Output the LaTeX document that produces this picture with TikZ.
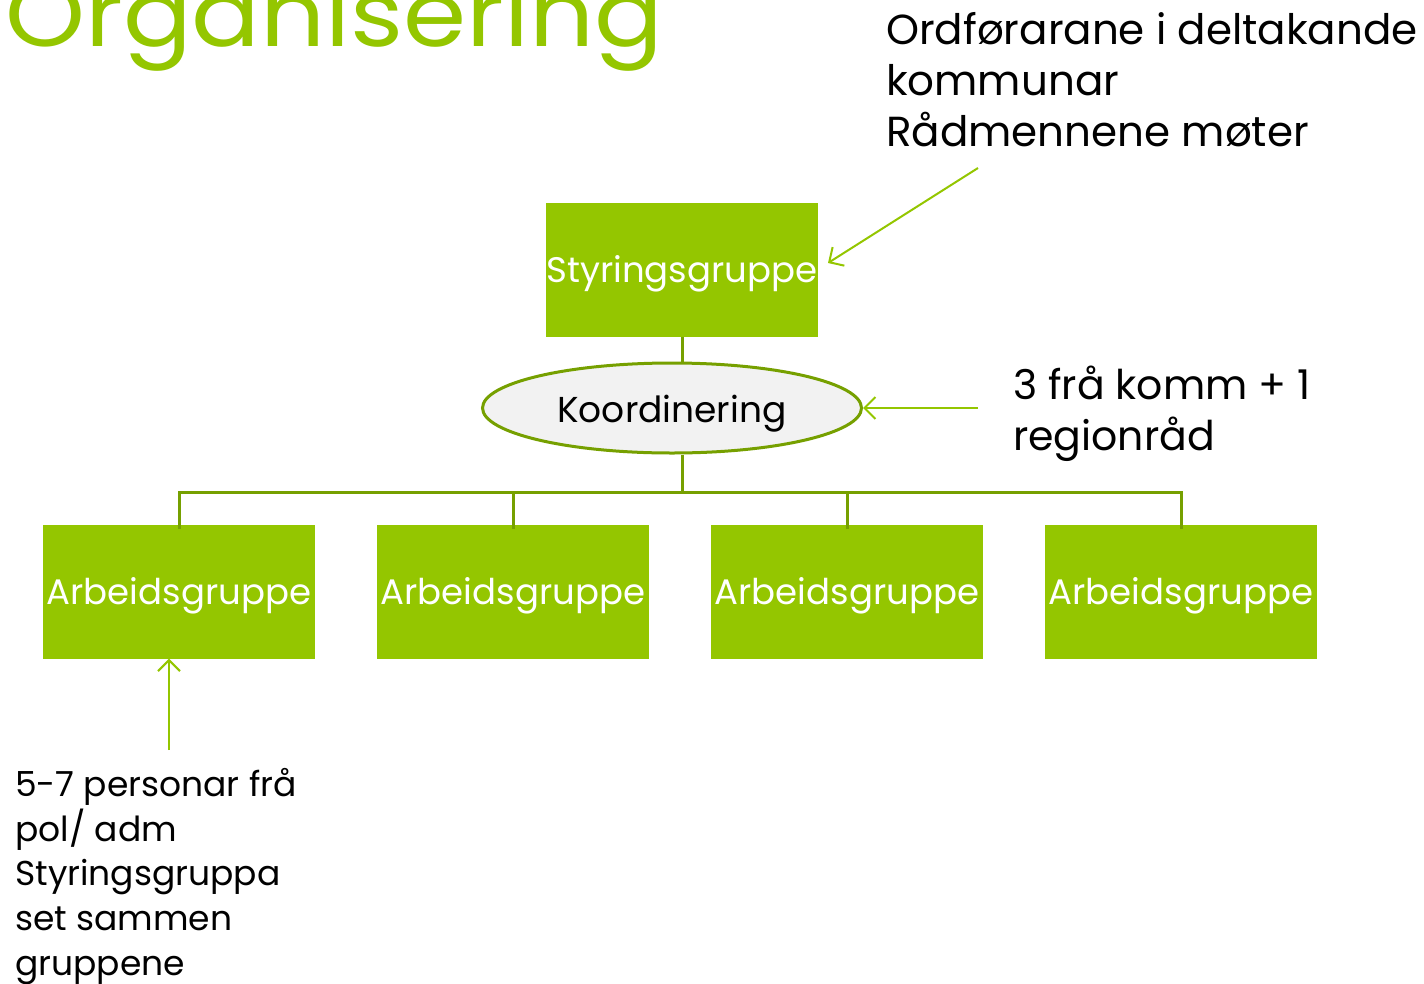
\documentclass[tikz,border=0pt]{standalone}
\usepackage{fontspec}
\setmainfont{Poppins}
\usetikzlibrary{arrows.meta,shapes.geometric}
\definecolor{lgreen}{HTML}{94C600}
\definecolor{dgreen}{HTML}{76A000}
\definecolor{egray}{HTML}{F2F2F2}
\tikzset{
  gbox/.style={fill=lgreen, draw=none, minimum width=272pt, minimum height=134pt, inner sep=0pt, text=white, text height=29pt, text depth=4pt, font=\fontsize{35.5}{40}\selectfont},
  conn/.style={draw=dgreen, line width=3pt},
  note/.style={lgreen, line width=2pt, -{Straight Barb[length=11pt,width=22pt,line width=2pt]}},
  txt/.style={anchor=north west, align=left, inner sep=0pt, text=black}
}
\begin{document}
\begin{tikzpicture}[x=1pt,y=-1pt]
\useasboundingbox (0,0) rectangle (1424,983);
\begin{scope}
\clip (0,0) rectangle (1424,983);
\node[anchor=base west, inner sep=0pt, text=lgreen, font=\fontsize{92}{100}\selectfont] (title) at (5,46) {\scalebox{1.105}[1]{Organisering}};
\end{scope}
\node[gbox] (sg) at (682,270) {Styringsgruppe};
\node[draw=dgreen, line width=3pt, fill=egray, ellipse, minimum width=379pt, minimum height=90pt, inner sep=0pt, text height=32pt, text depth=4pt, font=\fontsize{36}{40}\selectfont] (ko) at (672,408) {Koordinering};
\node[gbox] (a1) at (179,591.5) {Arbeidsgruppe};
\node[gbox] (a2) at (513,591.5) {Arbeidsgruppe};
\node[gbox] (a3) at (847,591.5) {Arbeidsgruppe};
\node[gbox] (a4) at (1181,591.5) {Arbeidsgruppe};
\coordinate (hub) at (682,492);
\draw[conn] (sg.south -| hub) -- (ko.north -| hub);
\draw[conn] (ko.south -| hub) -- (hub);
\draw[conn] ([yshift=-5pt]a1.north) -- (a1.north |- hub) -- (a4.north |- hub) -- ([yshift=-5pt]a4.north);
\draw[conn] (a2.north |- hub) -- ([yshift=-5pt]a2.north);
\draw[conn] (a3.north |- hub) -- ([yshift=-5pt]a3.north);
\node[txt, font=\fontsize{42}{51}\selectfont] (t1) at (886,12) {Ordførarane i deltakande\\kommunar\\Rådmennene møter};
\node[txt, font=\fontsize{41}{51}\selectfont] (t2) at (1013,366) {3 frå komm + 1\\regionråd};
\node[txt, font=\fontsize{34.5}{44.75}\selectfont] (t3) at (15,768) {5-7 personar frå\\pol/ adm\\Styringsgruppa\\set sammen\\gruppene};
\coordinate (s1) at (978,168);
\coordinate (s2) at (978,408);
\coordinate (s3) at (169,750);
\draw[note] (s1) -- (828,263);
\draw[note] (s2) -- (ko.east);
\draw[note] (s3) -- (s3 |- a1.south);
\end{tikzpicture}
\end{document}
